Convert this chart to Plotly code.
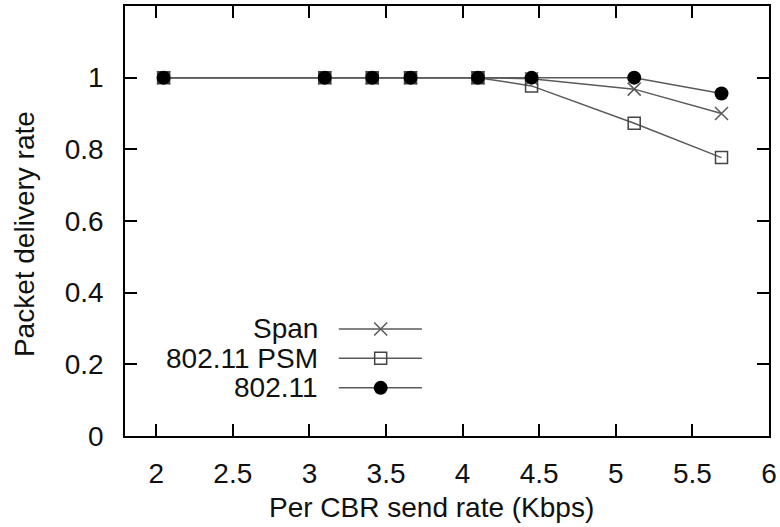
import plotly.graph_objects as go

# Data
rates = [2.048, 3.10, 3.41, 3.66, 4.10, 4.45, 5.12, 5.69]
span = [1.0, 1.0, 1.0, 1.0, 1.0, 0.997, 0.968, 0.90]
psm = [1.0, 1.0, 1.0, 1.0, 1.0, 0.977, 0.873, 0.777]
dot11 = [1.0, 1.0, 1.0, 1.0, 1.0, 1.0, 1.0, 0.956]
series_names = ["Span", "802.11 PSM", "802.11"]
x_ticks = [2, 2.5, 3, 3.5, 4, 4.5, 5, 5.5, 6]
x_tick_text = ["2", "2.5", "3", "3.5", "4", "4.5", "5", "5.5", "6"]
y_ticks = [0, 0.2, 0.4, 0.6, 0.8, 1.0]
y_tick_text = ["0", "0.2", "0.4", "0.6", "0.8", "1"]

FONT = "Liberation Sans, Arial, sans-serif"
LINE = "#5a5a5a"

styles = [
    dict(symbol="x-thin-open", size=13, color=LINE, line=dict(color="#555555", width=1.5)),
    dict(symbol="square-open", size=12, color="#444444", line=dict(color="#444444", width=1.5)),
    dict(symbol="circle", size=14, color="black", line=dict(color="black", width=0)),
]

fig = go.Figure()
for name, ys, st in zip(series_names, [span, psm, dot11], styles):
    fig.add_trace(go.Scatter(x=rates, y=ys, mode="lines+markers", name=name,
                             line=dict(color=LINE, width=1.5), marker=st,
                             showlegend=False))

# Manual legend (text on left, sample on right) in overlay paper-like axes
leg_y = [0.249, 0.181, 0.112]
for name, y, st in zip(series_names, leg_y, styles):
    fig.add_trace(go.Scatter(x=[0.332, 0.461], y=[y, y], mode="lines",
                             line=dict(color=LINE, width=1.5), xaxis="x2", yaxis="y2",
                             showlegend=False, hoverinfo="skip"))
    fig.add_trace(go.Scatter(x=[0.397], y=[y], mode="markers", marker=st,
                             xaxis="x2", yaxis="y2", showlegend=False, hoverinfo="skip"))
    fig.add_annotation(x=0.3026, y=y, xref="paper", yref="paper", text=name,
                       showarrow=False, xanchor="right", yanchor="middle",
                       font=dict(family=FONT, size=28, color="#111111"))

fig.add_annotation(x=0.476, y=-0.167, xref="paper", yref="paper",
                   text="Per CBR send rate (Kbps)", showarrow=False,
                   xanchor="center", yanchor="middle",
                   font=dict(family=FONT, size=28, color="#111111"))
fig.add_annotation(x=-0.155, y=0.47, xref="paper", yref="paper",
                   text="Packet delivery rate", showarrow=False, textangle=-90,
                   xanchor="center", yanchor="middle",
                   font=dict(family=FONT, size=28, color="#111111"))

axis_common = dict(showline=True, linecolor="black", linewidth=1.5, mirror="ticks",
                   ticks="inside", ticklen=12, tickwidth=1.5, tickcolor="black",
                   showgrid=False, zeroline=False, automargin=False,
                   tickfont=dict(family=FONT, size=28, color="#111111"))

fig.update_layout(
    width=780, height=527,
    margin=dict(l=125, r=10.5, t=6, b=91, autoexpand=False),
    paper_bgcolor="white", plot_bgcolor="white",
    xaxis=dict(range=[1.796, 6], tickvals=x_ticks, ticktext=x_tick_text,
               ticklabelstandoff=12, **axis_common),
    yaxis=dict(range=[0, 1.2], tickvals=y_ticks, ticktext=y_tick_text,
               ticklabelstandoff=14, **axis_common),
    xaxis2=dict(range=[0, 1], overlaying="x", visible=False, fixedrange=True),
    yaxis2=dict(range=[0, 1], overlaying="y", visible=False, fixedrange=True),
    showlegend=False,
)

fig.write_html("out.html", config={"displayModeBar": False},
               post_script="document.body.style.margin='0';document.body.style.overflow='hidden';")
